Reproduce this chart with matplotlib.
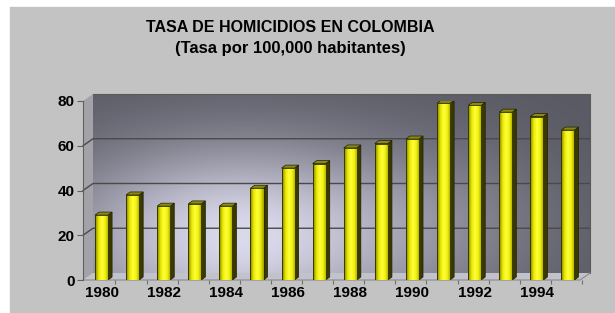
import numpy as np
import matplotlib.pyplot as plt
from matplotlib.colors import LinearSegmentedColormap
from matplotlib.patches import Polygon

# Tasa de homicidios por 100.000 habitantes
years = np.arange(1980, 1996)
rates = [29, 38, 33, 34, 33, 41, 50, 52, 59, 61, 63, 79, 78, 75, 73, 67]
yticks = [0, 20, 40, 60, 80]
xticks = [1980, 1982, 1984, 1986, 1988, 1990, 1992, 1994]

plt.rcParams['font.family'] = ['Liberation Sans', 'DejaVu Sans']

fig = plt.figure(figsize=(6.15, 3.13), dpi=100)
fig.patch.set_facecolor('white')
# fondo gris con franja blanca arriba y a la izquierda
fig.patches.append(plt.Rectangle((10 / 615, 0), 1, 1 - 7 / 313, transform=fig.transFigure,
                                 color='#c3c3c3', zorder=-10))

ax = fig.add_axes([83 / 615, 33 / 313, 507 / 615, 179 / 313])
ax.set_facecolor('none')

x0, x1 = 1979.405, 1995.71
ymax = 80
dx, dy = 0.3215, 3.13      # desplazamiento 3D del fondo
bdx, bdy = 0.13, 1.35      # profundidad de las barras

# pared de fondo con degradado
nu, nv = 200, 120
u = np.linspace(0, 1, nu)
v = np.linspace(0, 1, nv)
U, V = np.meshgrid(u, v)
bright = 0.36 + 0.52 * np.exp(-((U - 0.3) ** 2 / 0.14 + (V - 0.2) ** 2 / 0.28))
bright += 0.08 * np.exp(-((U - 0.75) ** 2 / 0.05 + (V - 0.3) ** 2 / 0.2))
wall = np.dstack([bright * 0.97, bright * 0.97, bright * 1.03 + 0.02]).clip(0, 1)
ax.imshow(wall, extent=(x0 + dx, x1, dy, ymax + dy), origin='lower', aspect='auto',
          zorder=0, clip_on=False, interpolation='bilinear')

# pared lateral izquierda y piso
ax.add_patch(Polygon([(x0, 0), (x0 + dx, dy), (x0 + dx, ymax + dy), (x0, ymax)],
                     closed=True, facecolor='#a2a2a8', edgecolor='none', zorder=0.5, clip_on=False))
ax.add_patch(Polygon([(x0, 0), (x1 - dx, 0), (x1, dy), (x0 + dx, dy)],
                     closed=True, facecolor='#c2c2cc', edgecolor='none', zorder=0.5, clip_on=False))

# líneas de cuadrícula en el fondo
for t in yticks[1:-1]:
    ax.plot([x0, x0 + dx, x1], [t, t + dy, t + dy], color='#4a4a4a', lw=1, zorder=1, clip_on=False)
ax.plot([x0 + dx, x1, x1], [ymax + dy, ymax + dy, dy], color='#5a5a5a', lw=0.8, zorder=1, clip_on=False)
ax.plot([x0, x1 - dx, x1], [0, 0, dy], color='#8a8a8a', lw=0.8, zorder=1, clip_on=False)

# barras
bars = ax.bar(years, rates, width=0.42, color='#e8e800', edgecolor='#2a2a00', linewidth=0.6, zorder=3)
cmap = LinearSegmentedColormap.from_list('amarillo', ['#7c7c00', '#e8e800', '#ffff3a', '#f0f010', '#a0a000'])
grad = np.linspace(0, 1, 64).reshape(1, -1)
for b in bars:
    x, w, h = b.get_x(), b.get_width(), b.get_height()
    im = ax.imshow(grad, extent=(x, x + w, 0, h), cmap=cmap, aspect='auto', zorder=3.5)
    im.set_clip_path(b)
    ax.add_patch(Polygon([(x, 0), (x + w, 0), (x + w, h), (x, h)], closed=True, fill=False,
                         edgecolor='#2a2a00', lw=0.6, zorder=3.6))
    ax.add_patch(Polygon([(x + w, 0), (x + w + bdx, bdy), (x + w + bdx, h + bdy), (x + w, h)],
                         closed=True, facecolor='#3a3a00', edgecolor='#1e1e00', lw=0.5, zorder=3.4))
    ax.add_patch(Polygon([(x, h), (x + bdx, h + bdy), (x + w + bdx, h + bdy), (x + w, h)],
                         closed=True, facecolor='#8a8a14', edgecolor='#1e1e00', lw=0.5, zorder=3.4))

ax.set_xlim(x0, x1)
ax.set_ylim(0, ymax)

for s in ['top', 'right', 'bottom']:
    ax.spines[s].set_visible(False)
ax.spines['left'].set_color('#606060')
ax.spines['left'].set_zorder(2)

ax.set_yticks(yticks)
ax.set_yticklabels([str(t) for t in yticks], fontsize=11, fontweight='bold')
ax.tick_params(axis='y', length=4, width=0.8, color='#606060', pad=2)
ax.set_xticks(xticks)
ax.set_xticklabels([str(t) for t in xticks], fontsize=11, fontweight='bold')
ax.set_xticks(years + 0.45, minor=True)
ax.tick_params(axis='x', which='major', length=0, pad=4)
ax.tick_params(axis='x', which='minor', length=3, width=0.8, color='#707070')

fig.text(290 / 615, 1 - 27 / 313, 'TASA DE HOMICIDIOS EN COLOMBIA', ha='center', va='center',
         fontsize=11.5, fontweight='bold')
fig.text(290 / 615, 1 - 48 / 313, '(Tasa por 100,000 habitantes)', ha='center', va='center',
         fontsize=12, fontweight='bold')

fig.savefig('out.png', dpi=100)
